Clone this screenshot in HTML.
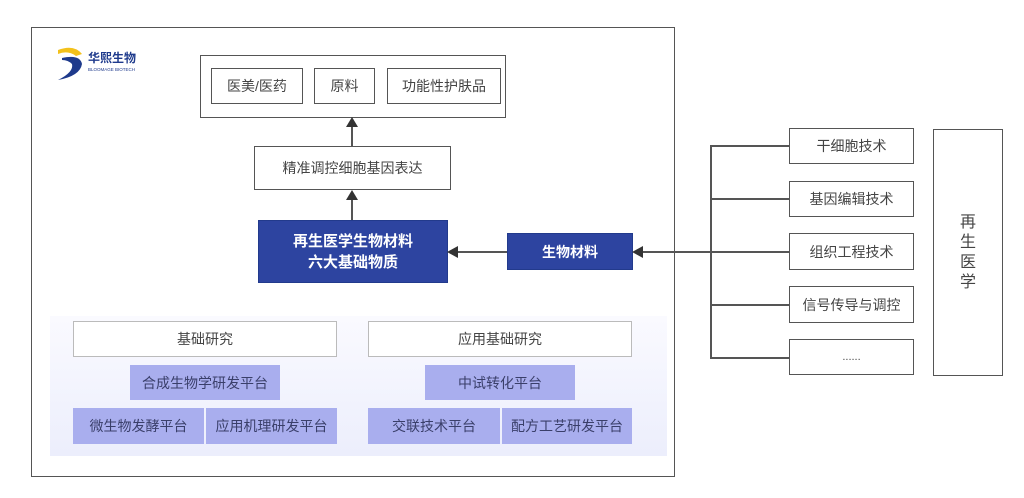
<!DOCTYPE html>
<html><head><meta charset="utf-8"><style>
body{margin:0;width:1024px;height:498px;background:#fff;position:relative;overflow:hidden;font-family:"Liberation Sans","Noto Sans CJK SC",sans-serif;color:#444}
.b{position:absolute;box-sizing:border-box;display:flex;align-items:center;justify-content:center;font-size:14px;text-align:center}
.w{border:1.5px solid #555;background:#fff}
.d{background:#2d44a0;color:#fff;font-weight:bold;border:1px solid #223a8c}
.l{background:#a9aeee;color:#3a3f6a}
.g{border:1px solid #bbb;background:#fff}
.ln{position:absolute;background:#555}
</style></head><body>
<div class="b" style="left:31px;top:27px;width:644px;height:450px;border:1.5px solid #555"></div>
<div class="b" style="left:50px;top:316px;width:617px;height:140px;background:linear-gradient(#fafaff,#eceefc)"></div>
<svg style="position:absolute;left:52px;top:44px" width="110" height="40">
<path d="M6 6 Q22 0 30 10 L24 12 Q16 6 6 10Z" fill="#f3c11b"/>
<path d="M10 14 Q28 10 30 20 Q28 32 6 36 Q22 28 20 20 Q16 16 10 16Z" fill="#1e3a8c"/>
<text x="36" y="18" font-size="12" font-weight="bold" fill="#1e3a8c" font-family="Noto Sans CJK SC,sans-serif">华熙生物</text>
<text x="36" y="27" font-size="4.5" fill="#1e3a8c" font-family="Liberation Sans,sans-serif">BLOOMAGE BIOTECH</text>
</svg>
<div class="b w" style="left:200px;top:55px;width:306px;height:63px"></div>
<div class="b w" style="left:211px;top:68px;width:92px;height:36px">医美/医药</div>
<div class="b w" style="left:314px;top:68px;width:61px;height:36px">原料</div>
<div class="b w" style="left:387px;top:68px;width:114px;height:36px">功能性护肤品</div>
<div class="b w" style="left:254px;top:146px;width:197px;height:44px">精准调控细胞基因表达</div>
<div class="b d" style="left:258px;top:220px;width:190px;height:63px;font-size:15px;line-height:21px">再生医学生物材料<br>六大基础物质</div>
<div class="b d" style="left:507px;top:233px;width:126px;height:37px">生物材料</div>
<div class="ln" style="left:351px;top:126px;width:1.5px;height:20px"></div>
<svg style="position:absolute;left:346px;top:117px" width="12" height="10"><polygon points="6,0 0,10 12,10" fill="#333"/></svg>
<div class="ln" style="left:351px;top:199px;width:1.5px;height:21px"></div>
<svg style="position:absolute;left:346px;top:190px" width="12" height="10"><polygon points="6,0 0,10 12,10" fill="#333"/></svg>
<div class="ln" style="left:457px;top:251px;width:50px;height:1.5px"></div>
<svg style="position:absolute;left:447px;top:246px" width="11" height="12"><polygon points="0,6 11,0 11,12" fill="#333"/></svg>
<div class="ln" style="left:642px;top:251px;width:147px;height:1.5px"></div>
<svg style="position:absolute;left:632px;top:246px" width="11" height="12"><polygon points="0,6 11,0 11,12" fill="#333"/></svg>
<div class="ln" style="left:710px;top:145px;width:1.5px;height:213px"></div>
<div class="ln" style="left:710px;top:145px;width:79px;height:1.5px"></div>
<div class="ln" style="left:710px;top:198px;width:79px;height:1.5px"></div>
<div class="ln" style="left:710px;top:304px;width:79px;height:1.5px"></div>
<div class="ln" style="left:710px;top:357px;width:79px;height:1.5px"></div>
<div class="b w" style="left:789px;top:128px;width:125px;height:36px">干细胞技术</div>
<div class="b w" style="left:789px;top:181px;width:125px;height:36px">基因编辑技术</div>
<div class="b w" style="left:789px;top:233px;width:125px;height:37px">组织工程技术</div>
<div class="b w" style="left:789px;top:286px;width:125px;height:37px">信号传导与调控</div>
<div class="b w" style="left:789px;top:339px;width:125px;height:36px;font-size:11px">......</div>
<div class="b w" style="left:933px;top:129px;width:70px;height:247px;font-size:16px;line-height:20px">再<br>生<br>医<br>学</div>
<div class="b g" style="left:73px;top:321px;width:264px;height:36px">基础研究</div>
<div class="b g" style="left:368px;top:321px;width:264px;height:36px">应用基础研究</div>
<div class="b l" style="left:130px;top:365px;width:150px;height:35px">合成生物学研发平台</div>
<div class="b l" style="left:425px;top:365px;width:150px;height:35px">中试转化平台</div>
<div class="b l" style="left:73px;top:408px;width:131px;height:36px">微生物发酵平台</div>
<div class="b l" style="left:206px;top:408px;width:131px;height:36px">应用机理研发平台</div>
<div class="b l" style="left:368px;top:408px;width:132px;height:36px">交联技术平台</div>
<div class="b l" style="left:502px;top:408px;width:130px;height:36px">配方工艺研发平台</div>
</body></html>
